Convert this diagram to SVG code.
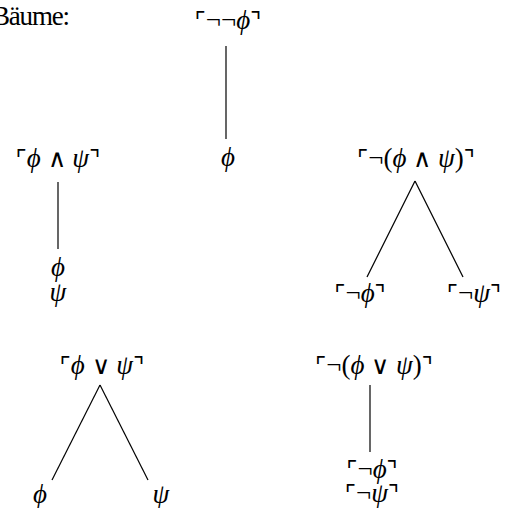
<svg xmlns="http://www.w3.org/2000/svg" width="507" height="508" viewBox="0 0 507 508">
<style>
text{font-family:"Liberation Serif","DejaVu Serif",serif;font-size:27px;fill:#000;text-anchor:middle}
.i{font-style:italic}
.c{font-family:"DejaVu Sans",sans-serif;font-size:24px}
.o{font-family:"DejaVu Sans",sans-serif;font-size:25px;font-weight:200}
.conn line{stroke:#000;stroke-width:1.2}
</style>
<rect width="507" height="508" fill="#fff"/>
<text x="-8" y="25" font-size="23" style="text-anchor:start" textLength="78">Bäume:</text>
<g id="n1"><text x="228" y="29"><tspan class="c">⌜</tspan>¬¬<tspan class="i">ϕ</tspan><tspan class="c">⌝</tspan></text></g>
<g id="n2"><text x="228" y="166" class="i">ϕ</text></g>
<g id="n3"><text x="58" y="167"><tspan class="c">⌜</tspan><tspan class="i">ϕ</tspan> <tspan class="o">∧</tspan> <tspan class="i">ψ</tspan><tspan class="c">⌝</tspan></text></g>
<g id="n4"><text x="58" y="276" class="i">ϕ</text><text x="58" y="301" class="i">ψ</text></g>
<g id="n5"><text x="416" y="167"><tspan class="c">⌜</tspan>¬(<tspan class="i">ϕ</tspan> <tspan class="o">∧</tspan> <tspan class="i">ψ</tspan>)<tspan class="c">⌝</tspan></text></g>
<g id="n6"><text x="360" y="302"><tspan class="c">⌜</tspan>¬<tspan class="i">ϕ</tspan><tspan class="c">⌝</tspan></text></g>
<g id="n7"><text x="474" y="302"><tspan class="c">⌜</tspan>¬<tspan class="i">ψ</tspan><tspan class="c">⌝</tspan></text></g>
<g id="n8"><text x="102" y="374"><tspan class="c">⌜</tspan><tspan class="i">ϕ</tspan> <tspan class="o">∨</tspan> <tspan class="i">ψ</tspan><tspan class="c">⌝</tspan></text></g>
<g id="n9"><text x="40" y="503" class="i">ϕ</text></g>
<g id="n10"><text x="161" y="503" class="i">ψ</text></g>
<g id="n11"><text x="374" y="374"><tspan class="c">⌜</tspan>¬(<tspan class="i">ϕ</tspan> <tspan class="o">∨</tspan> <tspan class="i">ψ</tspan>)<tspan class="c">⌝</tspan></text></g>
<g id="n12"><text x="372" y="478"><tspan class="c">⌜</tspan>¬<tspan class="i">ϕ</tspan><tspan class="c">⌝</tspan></text><text x="372" y="502"><tspan class="c">⌜</tspan>¬<tspan class="i">ψ</tspan><tspan class="c">⌝</tspan></text></g>
<g class="conn" id="connectors">
<line x1="226" y1="46" x2="226" y2="139"/>
<line x1="58" y1="182" x2="58" y2="249"/>
<line x1="415" y1="181" x2="367" y2="277"/>
<line x1="415" y1="181" x2="463" y2="277"/>
<line x1="100" y1="385" x2="52" y2="480"/>
<line x1="100" y1="385" x2="148" y2="480"/>
<line x1="370" y1="385" x2="370" y2="452"/>
</g>
</svg>
